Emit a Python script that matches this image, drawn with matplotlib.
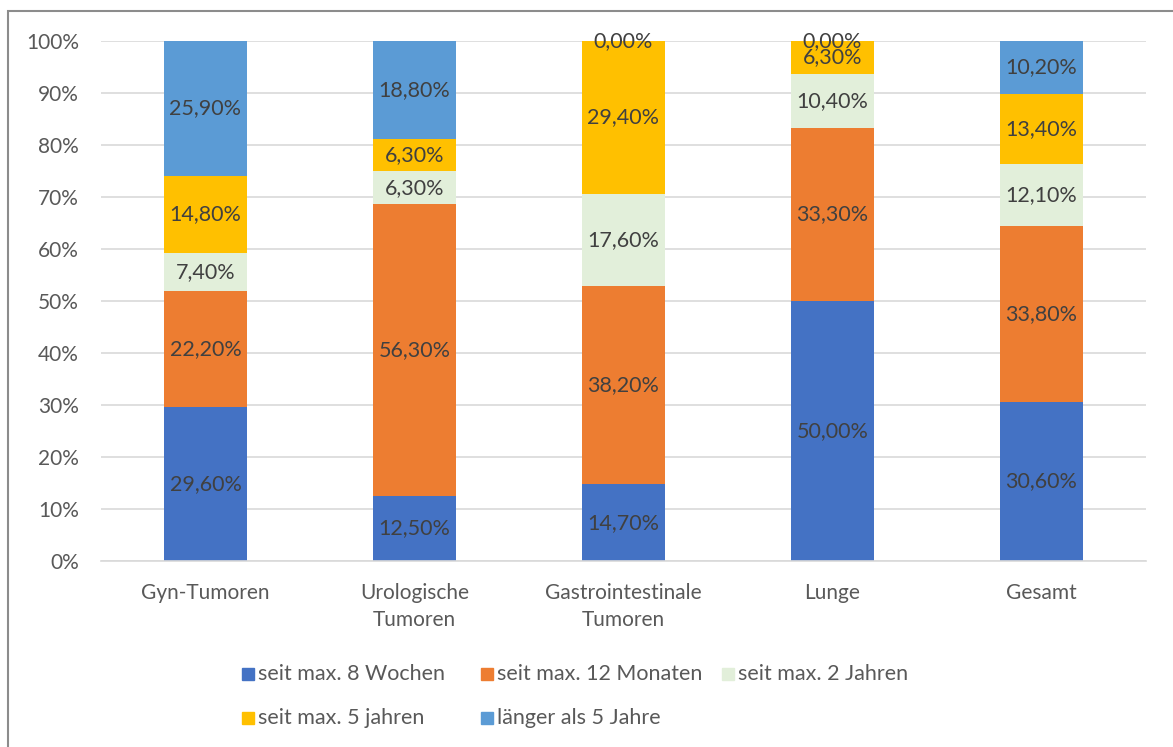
import matplotlib.pyplot as plt
from matplotlib.patches import Rectangle
import numpy as np

plt.rcParams['font.family'] = ['Lato', 'DejaVu Sans']

# categories and values (percent)
categories = ['Gyn-Tumoren', 'Urologische\nTumoren', 'Gastrointestinale\nTumoren', 'Lunge', 'Gesamt']
series_names = ['seit max. 8 Wochen', 'seit max. 12 Monaten', 'seit max. 2 Jahren',
                'seit max. 5 jahren', 'länger als 5 Jahre']
wochen_8 = [29.6, 12.5, 14.7, 50.0, 30.6]
monate_12 = [22.2, 56.3, 38.2, 33.3, 33.8]
jahre_2 = [7.4, 6.3, 17.6, 10.4, 12.1]
jahre_5 = [14.8, 6.3, 29.4, 6.3, 13.4]
laenger_5 = [25.9, 18.8, 0.0, 0.0, 10.2]
colors = ['#4472C4', '#ED7D31', '#E2EFDA', '#FFC000', '#5B9BD5']

data = np.array([wochen_8, monate_12, jahre_2, jahre_5, laenger_5])
totals = data.sum(axis=0)
shares = data / totals * 100

W, H = 1173, 747
fig = plt.figure(figsize=(W / 100, H / 100), dpi=100)
ax = fig.add_axes([101 / W, 1 - 561 / H, 1045 / W, 520 / H])

# outer chart border
fig.patches.append(Rectangle((8 / W, -0.1), 1.2, 1 - 11 / H + 0.1, transform=fig.transFigure,
                             fill=False, edgecolor='#8C8C8C', linewidth=1.5))

x = np.arange(len(categories))
bottom = np.zeros(len(categories))
for i in range(len(series_names)):
    ax.bar(x, shares[i], 0.4, bottom=bottom, color=colors[i], zorder=2)
    for j in range(len(categories)):
        label = f'{data[i, j]:.2f}'.replace('.', ',') + '%'
        ypos = bottom[j] + shares[i, j] / 2
        ax.text(x[j], ypos, label, ha='center', va='center',
                fontsize=15.5, color='#404040', zorder=3)
    bottom += shares[i]

ax.set_xlim(-0.5, len(categories) - 0.5)
ax.set_ylim(0, 100)
ax.set_yticks(range(0, 101, 10))
ax.set_yticklabels([f'{v}%' for v in range(0, 101, 10)])
ax.set_xticks(x)
ax.set_xticklabels(categories, linespacing=1.45)
ax.tick_params(axis='both', length=0, labelsize=15, labelcolor='#595959')
ax.tick_params(axis='y', pad=16)
ax.tick_params(axis='x', pad=16)
ax.grid(axis='y', color='#D9D9D9', linewidth=1.2, zorder=0)
ax.set_axisbelow(True)
for s in ['top', 'right', 'left']:
    ax.spines[s].set_visible(False)
ax.spines['bottom'].set_color('#D9D9D9')
ax.spines['bottom'].set_linewidth(1.2)

# legend: uniform columns, row by row like the original
col_x = [242, 481, 722]
row_y = [674, 718]
for k, name in enumerate(series_names):
    cx = col_x[k % 3]
    cy = row_y[k // 3]
    fig.patches.append(Rectangle((cx / W, 1 - (cy + 6) / H), 12 / W, 12 / H,
                                 transform=fig.transFigure, color=colors[k]))
    fig.text((cx + 16) / W, 1 - cy / H, name, ha='left', va='center',
             fontsize=15.5, color='#595959')

fig.savefig('out.png', dpi=100)
